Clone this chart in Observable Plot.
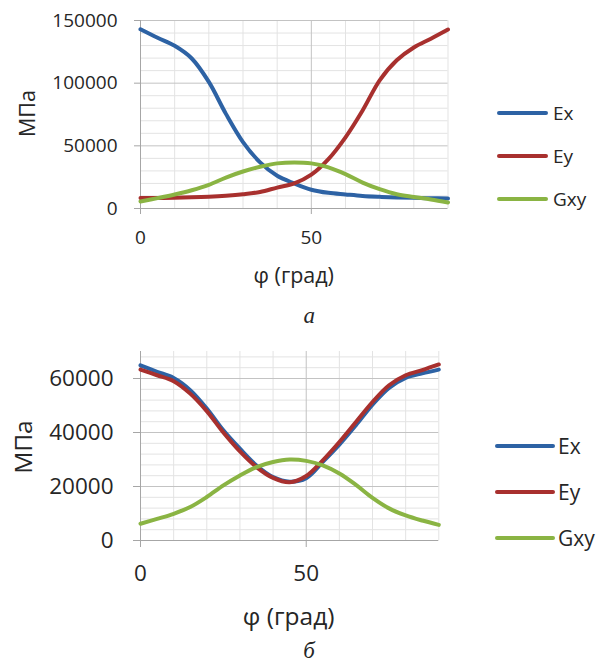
<!DOCTYPE html>
<html><head><meta charset="utf-8">
<script src="https://cdn.jsdelivr.net/npm/d3@7"></script>
<script src="https://cdn.jsdelivr.net/npm/@observablehq/plot@0.6"></script>
<style>
body{margin:0;background:#fff;width:607px;height:664px;position:relative;overflow:hidden;font-family:"Open Sans",sans-serif;color:#262626}
.chart{position:absolute;left:0}
.leg{position:absolute;display:flex;align-items:center;white-space:nowrap}
</style></head><body>
<div id="a" class="chart" style="top:0px"></div>
<div id="b" class="chart" style="top:330px"></div>
<div id="legends"></div>
<script>
// angle φ, degrees
const phi = [0, 5, 10, 15, 20, 25, 30, 35, 40, 45, 50, 55, 60, 65, 70, 75, 80, 85, 90];
const seriesNames = ["Ex", "Ey", "Gxy"];
const seriesColors = ["#2d62a4", "#a8302e", "#8ab443"];

// chart а (MPa)
const ExA  = [143000, 136200, 129800, 119700, 101000, 75500, 53000, 36800, 26100, 20000, 15000, 12500, 11200, 10000, 9300, 8800, 8500, 8200, 8000];
const EyA  = [8300, 8400, 8600, 8900, 9400, 10200, 11400, 13200, 16700, 20000, 27000, 39400, 56800, 78200, 102300, 118300, 128500, 135500, 142800];
const GxyA = [5600, 8300, 11200, 14600, 18900, 24700, 29500, 33300, 36000, 36800, 36000, 32800, 27400, 20700, 15400, 11400, 9200, 7200, 4800];

// chart б (MPa)
const ExB  = [64900, 62500, 60200, 55700, 48900, 40800, 34000, 27800, 23500, 21800, 23100, 29100, 35500, 42700, 50300, 56500, 60200, 61900, 63300];
const EyB  = [63300, 61200, 59000, 54400, 47900, 40000, 33000, 27200, 23200, 21600, 23900, 29700, 36500, 43900, 51300, 57500, 61200, 63100, 65200];
const GxyB = [6200, 8000, 9900, 12400, 16100, 20400, 24100, 27200, 29100, 30000, 29500, 27800, 24800, 20600, 15800, 11900, 9300, 7400, 5800];

// ticks
const xTicks = [0, 50];
const xMinor = [10, 20, 30, 40, 60, 70, 80, 90];
const xMajor = [50];
const yTicksA = [0, 50000, 100000, 150000];
const yMajorA = [50000, 100000, 150000];
const yMinorA = [10000, 20000, 30000, 40000, 60000, 70000, 80000, 90000, 110000, 120000, 130000, 140000];
const yTicksB = [0, 20000, 40000, 60000];
const yMajorB = [20000, 40000, 60000];
const yMinorB = [4000, 8000, 12000, 16000, 24000, 28000, 32000, 36000, 44000, 48000, 52000, 56000, 64000, 68000];

const yTitle = "МПа";
const xTitle = "φ (град)";
const captions = ["а", "б"];

function rowsOf(vals) {
  const rows = [];
  seriesNames.forEach((name, k) => vals[k].forEach((v, i) => rows.push({phi: phi[i], value: v, series: name})));
  return rows;
}

function makeChart(c) {
  const minorC = "#e3e3e3", majorC = "#c3c3c3", axisC = "#a6a6a6";
  return Plot.plot({
    width: 460, height: c.height,
    marginLeft: 140, marginRight: c.mr, marginTop: c.mt, marginBottom: c.mb,
    style: {fontFamily: "'Open Sans', sans-serif", fontSize: c.font + "px", color: "#262626", background: "transparent", overflow: "visible"},
    x: {domain: [0, 90]},
    y: {domain: [0, c.yMax]},
    color: {domain: seriesNames, range: seriesColors},
    marks: [
      Plot.gridX({ticks: xMinor, stroke: minorC, strokeOpacity: 1}),
      Plot.gridY({ticks: c.yMinor, stroke: minorC, strokeOpacity: 1}),
      Plot.gridX({ticks: xMajor, stroke: majorC, strokeOpacity: 1}),
      Plot.gridY({ticks: c.yMajor, stroke: majorC, strokeOpacity: 1}),
      Plot.ruleX([0], {stroke: axisC}),
      Plot.ruleY([0], {stroke: axisC}),
      Plot.axisY({ticks: c.yTicks, tickSize: c.tick, tickPadding: c.padY, tickFormat: d => String(d), stroke: axisC, fill: "#262626", label: null}),
      Plot.axisX({ticks: xTicks, tickSize: c.tick, tickPadding: c.padX, tickFormat: d => String(d), stroke: axisC, fill: "#262626", label: null}),
      Plot.line(rowsOf(c.vals), {x: "phi", y: "value", z: "series", stroke: "series", curve: "catmull-rom", strokeWidth: 4}),
      Plot.text([yTitle], {text: d => d, frameAnchor: "left", dx: c.ytDx, dy: c.ytDy, rotate: -90, fontSize: c.titleFont, lineAnchor: "middle", textAnchor: "middle", fill: "#262626"}),
      Plot.text([xTitle], {text: d => d, frameAnchor: "bottom", dx: c.xtDx, dy: c.xtDy, fontSize: c.titleFont, lineAnchor: "middle", textAnchor: "middle", fill: "#262626"}),
      Plot.text([c.caption], {text: d => d, frameAnchor: "bottom", dx: c.capDx, dy: c.capDy, fontSize: 23, fontStyle: "italic", fontFamily: "'Liberation Serif', serif", lineAnchor: "middle", textAnchor: "middle", fill: "#262626"})
    ]
  });
}

document.getElementById("a").append(makeChart({
  height: 335, mt: 20, mb: 127, mr: 12.5, yMax: 150000,
  yTicks: yTicksA, yMajor: yMajorA, yMinor: yMinorA,
  vals: [ExA, EyA, GxyA], font: 19, titleFont: 21.5, tick: 6, padY: 17, padX: 16,
  ytDx: -112, ytDy: -1, xtDx: -0.5, xtDy: 68, caption: captions[0], capDx: 15, capDy: 107
}));
document.getElementById("b").append(makeChart({
  height: 334, mt: 21, mb: 124, mr: 21.7, yMax: 70000,
  yTicks: yTicksB, yMajor: yMajorB, yMinor: yMinorB,
  vals: [ExB, EyB, GxyB], font: 22.5, titleFont: 24.5, tick: 7, padY: 20, padX: 18,
  ytDx: -116.7, ytDy: 1, xtDx: -1, xtDy: 76.7, caption: captions[1], capDx: 19.5, capDy: 110
}));

// legends
const legendSpecs = [
  {x: 497, len: 51, ys: [113, 156, 199], font: 19, gap: 5},
  {x: 495, len: 60, ys: [445.7, 491.7, 538.3], font: 21, gap: 3}
];
const legHost = d3.select("#legends");
legendSpecs.forEach(L => {
  seriesNames.forEach((name, k) => {
    const h = 30;
    const item = legHost.append("div").attr("class", "leg")
      .style("left", L.x + "px").style("top", (L.ys[k] - h / 2) + "px").style("height", h + "px");
    const svg = item.append("svg").attr("width", L.len).attr("height", h).style("display", "block");
    svg.append("line").attr("x1", 2).attr("x2", L.len - 2).attr("y1", h / 2).attr("y2", h / 2)
      .attr("stroke", seriesColors[k]).attr("stroke-width", 4).attr("stroke-linecap", "round");
    item.append("span").text(name)
      .style("margin-left", L.gap + "px").style("font-size", L.font + "px").style("line-height", h + "px").style("color", "#262626");
  });
});
</script>
</body></html>
